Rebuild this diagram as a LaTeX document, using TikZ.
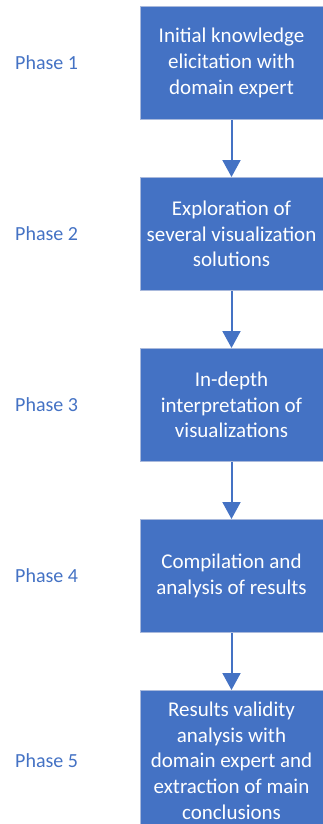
\documentclass[tikz,border=0pt]{standalone}
\usepackage{fontspec}
\setmainfont{Carlito}
\usetikzlibrary{arrows.meta,positioning}
\definecolor{phaseblue}{HTML}{4472C4}
\definecolor{boxline}{HTML}{A9B9DC}

\begin{document}
\begin{tikzpicture}[x=1pt,y=-1pt,->,>={Triangle[width=18pt,length=17pt]},
  node distance=57pt,
  phase box/.style={rectangle,fill=phaseblue,draw=boxline,line width=1pt,text=white,
    minimum width=183pt,minimum height=113pt,inner sep=0pt,align=center,
    font=\fontsize{21}{25.7}\selectfont},
  phase label/.style={anchor=west,inner sep=0pt,text=phaseblue,font=\fontsize{20}{24}\selectfont}]

  \useasboundingbox (0,0) rectangle (323,824);

  \node[phase box] (b1) at (231.5,63) {Initial knowledge\\elicitation with\\domain expert};
  \node[phase box] (b2) [below=of b1] {Exploration of\\several visualization\\solutions};
  \node[phase box] (b3) [below=of b2] {In-depth\\interpretation of\\visualizations};
  \node[phase box] (b4) [below=of b3] {Compilation and\\analysis of results};
  \node[phase box,minimum height=140pt] (b5) [below=of b4] {Results validity\\analysis with\\domain expert and\\extraction of main\\conclusions};

  \node[phase label] (ph1) at (b1.west -| 15,0) {Phase 1};
  \node[phase label] (ph2) at (b2.west -| 15,0) {Phase 2};
  \node[phase label] (ph3) at (b3.west -| 15,0) {Phase 3};
  \node[phase label] (ph4) at (b4.west -| 15,0) {Phase 4};
  \node[phase label] (ph5) at (b5.west -| 15,0) {Phase 5};

  \path[color=phaseblue,line width=2pt]
    (b1) edge (b2)
    (b2) edge (b3)
    (b3) edge (b4)
    (b4) edge (b5);

\end{tikzpicture}
\end{document}
